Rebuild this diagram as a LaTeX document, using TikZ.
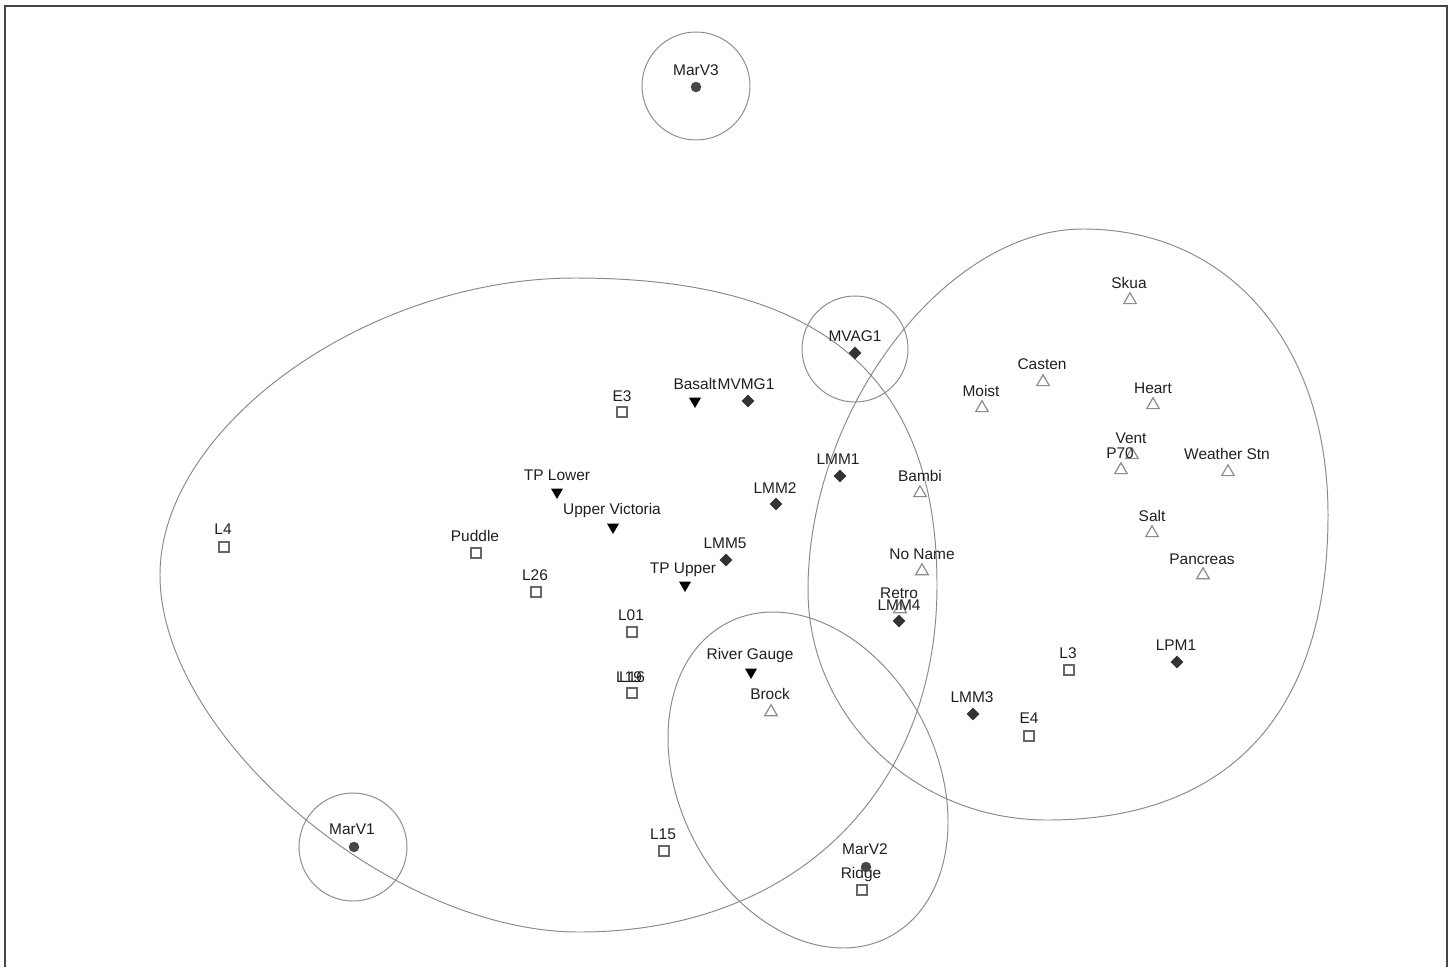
\documentclass[tikz,border=0pt]{standalone}
\usepackage{fontspec}
\setmainfont{Liberation Sans}
\usetikzlibrary{shapes.geometric}
\definecolor{framegray}{HTML}{454545}
\definecolor{ringgray}{HTML}{8A8A8A}
\definecolor{sqgray}{HTML}{666666}
\definecolor{trigray}{HTML}{8C8C8C}
\definecolor{markdark}{HTML}{333333}
\tikzset{
  lbl/.style={anchor=base,inner sep=0pt,font=\fontsize{8.8}{10}\selectfont,text=black!88},
  ring/.style={draw=ringgray,line width=0.55pt},
  dia/.style={diamond,fill=markdark,inner sep=0pt,minimum width=0.26cm,minimum height=0.26cm},
  vdot/.style={circle,fill=black!72,inner sep=0pt,minimum size=0.21cm},
  sq/.style={rectangle,draw=sqgray,fill=white,line width=0.9pt,inner sep=0pt,minimum size=0.19cm},
  utri/.style={regular polygon,regular polygon sides=3,draw=trigray,line width=0.7pt,inner sep=0pt,minimum size=0.29cm},
  dtri/.style={regular polygon,regular polygon sides=3,shape border rotate=180,fill=black,inner sep=0pt,minimum size=0.28cm}
}
\begin{document}
\begin{tikzpicture}[x=0.02cm,y=-0.02cm]
\useasboundingbox (0,0) rectangle (1456,967);
\draw[framegray,line width=1.2pt] (5,967) -- (5,6) -- (1447,6) -- (1447,967);

\draw[ring] (696,86) circle [radius=54];
\draw[ring] (855,349) circle [radius=53];
\draw[ring] (353,847) circle [radius=54];
\draw[ring,rotate around={-63.1:(808,780)}] (808,780) ellipse [x radius=176.6,y radius=128.9];
\draw[ring] (160,575) .. controls (160,426.5) and (367.5,278) .. (575,278)
  .. controls (821.2,278) and (937,376.2) .. (937,585)
  .. controls (937,793.2) and (793.8,932) .. (579,932)
  .. controls (390.5,932) and (160,735.7) .. (160,575) -- cycle;
\draw[ring] (808,590) .. controls (808,409.5) and (945.5,229) .. (1083,229)
  .. controls (1230,229) and (1328,345.4) .. (1328,515)
  .. controls (1328,710) and (1232,820) .. (1047,820)
  .. controls (915.1,820) and (808,717) .. (808,590) -- cycle;

\node (e3) at (622,412) [sq] {};
\node (l4) at (224,547) [sq] {};
\node (puddle) at (476,553) [sq] {};
\node (l26) at (536,592) [sq] {};
\node (l01) at (632,632) [sq] {};
\node (l19) at (632,693) [sq] {};
\node (l16) at (632,693) [sq] {};
\node (l15) at (664,851) [sq] {};
\node (ridge) at (862,890) [sq] {};
\node (l3) at (1069,670) [sq] {};
\node (e4) at (1029,736) [sq] {};

\node (skua) at (1130,300) [utri] {};
\node (casten) at (1043,382) [utri] {};
\node (moist) at (982,408) [utri] {};
\node (heart) at (1153,405) [utri] {};
\node (vent) at (1132,455) [utri] {};
\node (p70) at (1121,470) [utri] {};
\node (weather) at (1228,472) [utri] {};
\node (bambi) at (920,493) [utri] {};
\node (noname) at (922,571) [utri] {};
\node (retro) at (900,609) [utri] {};
\node (salt) at (1152,533) [utri] {};
\node (pancreas) at (1203,575) [utri] {};
\node (brock) at (771,712) [utri] {};

\node (basalt) at (695,401) [dtri] {};
\node (tplower) at (557,492) [dtri] {};
\node (uppervic) at (613,527) [dtri] {};
\node (tpupper) at (685,585) [dtri] {};
\node (rivergauge) at (751,672) [dtri] {};

\node (marv3-t) at (696,75) [lbl] {MarV3};
\node (marv1-t) at (352,834) [lbl] {MarV1};
\node (marv2-t) at (865,854) [lbl] {MarV2};
\node (mvag1-t) at (855,341) [lbl] {MVAG1};
\node (basalt-t) at (695,389) [lbl] {Basalt};
\node (mvmg1-t) at (746,389) [lbl] {MVMG1};
\node (e3-t) at (622,401) [lbl] {E3};
\node (lmm1-t) at (838,464) [lbl] {LMM1};
\node (bambi-t) at (920,481) [lbl] {Bambi};
\node (lmm2-t) at (775,493) [lbl] {LMM2};
\node (tplower-t) at (557,480) [lbl] {TP Lower};
\node (uppervic-t) at (612,514) [lbl] {Upper Victoria};
\node (l4-t) at (223,534) [lbl] {L4};
\node (puddle-t) at (475,541) [lbl] {Puddle};
\node (l26-t) at (535,580) [lbl] {L26};
\node (lmm5-t) at (725,548) [lbl] {LMM5};
\node (tpupper-t) at (683,573) [lbl] {TP Upper};
\node (noname-t) at (922,559) [lbl] {No Name};
\node (retro-t) at (899,598) [lbl] {Retro};
\node (lmm4-t) at (899,610) [lbl] {LMM4};
\node (l01-t) at (631,620) [lbl] {L01};
\node (l19-t) at (629,682) [lbl] {L19};
\node (l16-t) at (632,682) [lbl] {L16};
\node (rivergauge-t) at (750,659) [lbl] {River Gauge};
\node (brock-t) at (770,699) [lbl] {Brock};
\node (l15-t) at (663,839) [lbl] {L15};
\node (ridge-t) at (861,878) [lbl] {Ridge};
\node (lmm3-t) at (972,702) [lbl] {LMM3};
\node (e4-t) at (1029,723) [lbl] {E4};
\node (l3-t) at (1068,658) [lbl] {L3};
\node (lpm1-t) at (1176,650) [lbl] {LPM1};
\node (skua-t) at (1129,288) [lbl] {Skua};
\node (casten-t) at (1042,369) [lbl] {Casten};
\node (moist-t) at (981,396) [lbl] {Moist};
\node (heart-t) at (1153,393) [lbl] {Heart};
\node (vent-t) at (1131,443) [lbl] {Vent};
\node (p70-t) at (1120,458) [lbl] {P70};
\node (weather-t) at (1227,459) [lbl] {Weather Stn};
\node (salt-t) at (1152,521) [lbl] {Salt};
\node (pancreas-t) at (1202,564) [lbl] {Pancreas};

\node (mvag1) at (855,353) [dia] {};
\node (mvmg1) at (748,401) [dia] {};
\node (lmm1) at (840,476) [dia] {};
\node (lmm2) at (776,504) [dia] {};
\node (lmm5) at (726,560) [dia] {};
\node (lmm4) at (899,621) [dia] {};
\node (lmm3) at (973,714) [dia] {};
\node (lpm1) at (1177,662) [dia] {};

\node (marv3) at (696,87) [vdot] {};
\node (marv1) at (354,847) [vdot] {};
\node (marv2) at (866,867) [vdot] {};
\end{tikzpicture}
\end{document}
